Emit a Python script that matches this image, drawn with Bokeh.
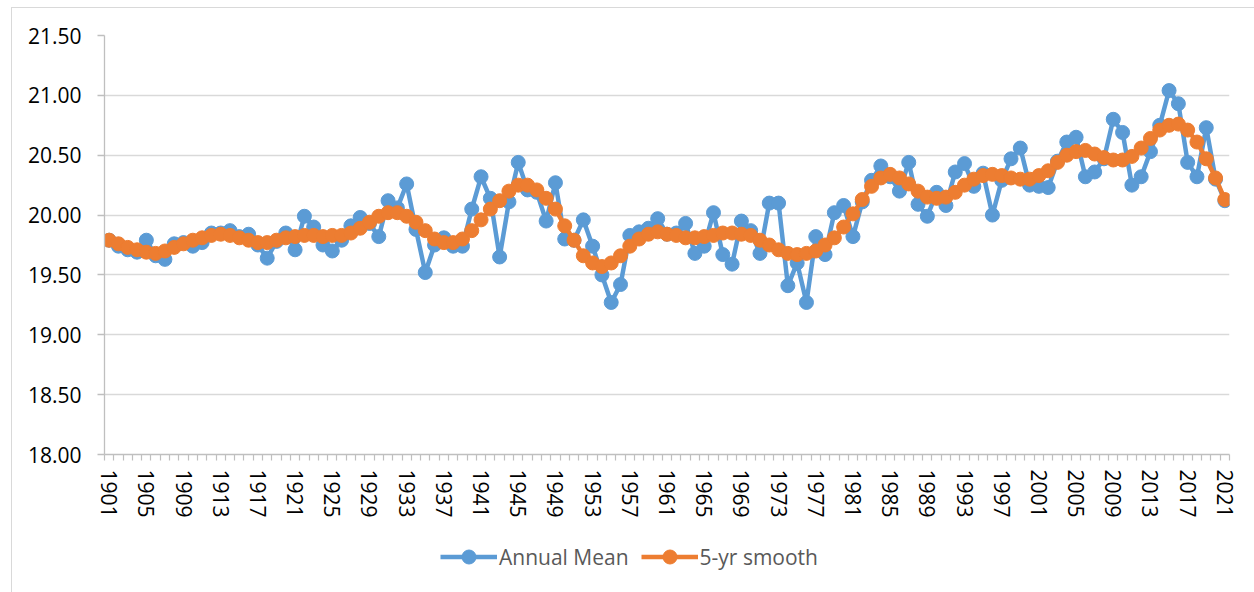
import math
from bokeh.plotting import figure
from bokeh.layouts import column
from bokeh.models import (FixedTicker, Legend, LegendItem, ColumnDataSource,
                          NumeralTickFormatter, Range1d)
from bokeh.embed import file_html
from bokeh.resources import INLINE

years = list(range(1901, 2022))

annual_mean = [
    19.79, 19.74, 19.71, 19.69, 19.79, 19.66, 19.63, 19.76, 19.77, 19.74,  # 1901-1910
    19.77, 19.85, 19.85, 19.87, 19.82, 19.84, 19.75, 19.64, 19.78, 19.85,  # 1911-1920
    19.71, 19.99, 19.90, 19.75, 19.70, 19.79, 19.91, 19.98, 19.93, 19.82,  # 1921-1930
    20.12, 20.06, 20.26, 19.88, 19.52, 19.75, 19.81, 19.74, 19.74, 20.05,  # 1931-1940
    20.32, 20.14, 19.65, 20.11, 20.44, 20.21, 20.19, 19.95, 20.27, 19.80,  # 1941-1950
    19.79, 19.96, 19.74, 19.50, 19.27, 19.42, 19.83, 19.86, 19.89, 19.97,  # 1951-1960
    19.84, 19.85, 19.93, 19.68, 19.74, 20.02, 19.67, 19.59, 19.95, 19.87,  # 1961-1970
    19.68, 20.10, 20.10, 19.41, 19.60, 19.27, 19.82, 19.67, 20.02, 20.08,  # 1971-1980
    19.82, 20.11, 20.29, 20.41, 20.32, 20.20, 20.44, 20.09, 19.99, 20.19,  # 1981-1990
    20.08, 20.36, 20.43, 20.24, 20.35, 20.00, 20.29, 20.47, 20.56, 20.25,  # 1991-2000
    20.24, 20.23, 20.45, 20.61, 20.65, 20.32, 20.36, 20.47, 20.80, 20.69,  # 2001-2010
    20.25, 20.32, 20.53, 20.75, 21.04, 20.93, 20.44, 20.32, 20.73, 20.30,  # 2011-2020
    20.12,                                                                 # 2021
]

smooth_5yr = [
    19.79, 19.76, 19.73, 19.71, 19.69, 19.68, 19.70, 19.73, 19.76, 19.79,  # 1901-1910
    19.81, 19.83, 19.84, 19.83, 19.81, 19.79, 19.77, 19.77, 19.79, 19.81,  # 1911-1920
    19.82, 19.83, 19.83, 19.82, 19.83, 19.83, 19.85, 19.89, 19.94, 19.99,  # 1921-1930
    20.02, 20.02, 19.99, 19.94, 19.87, 19.80, 19.77, 19.77, 19.80, 19.87,  # 1931-1940
    19.96, 20.05, 20.12, 20.20, 20.25, 20.25, 20.21, 20.14, 20.05, 19.91,  # 1941-1950
    19.79, 19.66, 19.60, 19.57, 19.60, 19.66, 19.74, 19.80, 19.84, 19.86,  # 1951-1960
    19.84, 19.83, 19.81, 19.81, 19.82, 19.83, 19.85, 19.85, 19.84, 19.83,  # 1961-1970
    19.79, 19.75, 19.71, 19.68, 19.67, 19.68, 19.70, 19.75, 19.81, 19.90,  # 1971-1980
    20.01, 20.13, 20.24, 20.31, 20.34, 20.31, 20.26, 20.20, 20.15, 20.14,  # 1981-1990
    20.15, 20.19, 20.25, 20.30, 20.33, 20.34, 20.33, 20.31, 20.30, 20.30,  # 1991-2000
    20.33, 20.37, 20.44, 20.50, 20.53, 20.54, 20.51, 20.48, 20.46, 20.46,  # 2001-2010
    20.49, 20.56, 20.64, 20.71, 20.75, 20.76, 20.71, 20.61, 20.47, 20.31,  # 2011-2020
    20.13,                                                                 # 2021
]

tick_years = years[::4]
y_ticks = [18.0, 18.5, 19.0, 19.5, 20.0, 20.5, 21.0, 21.5]

series_names = ["Annual Mean", "5-yr smooth"]
series_colors = ["#5B9BD5", "#ED7D31"]
series_cols = ["a", "s"]

FONT = "Open Sans"
EDGE = "#d9d9d9"
LINE_W = 4.5
MARK = 14

src = ColumnDataSource(dict(x=years, a=annual_mean, s=smooth_5yr))

# ---------------- main chart ----------------
p = figure(width=1254, height=525, output_backend="svg", toolbar_location=None,
           x_range=Range1d(years[0] - 0.5, years[-1] + 0.5),
           y_range=Range1d(y_ticks[0], y_ticks[-1]),
           min_border_left=104, min_border_right=25,
           min_border_top=35, min_border_bottom=71)
# thin chart-area border (left and top edges, as in the reference)
p.styles = {
    "background": (f"linear-gradient({EDGE},{EDGE}) 11px 7px / 1px 100% no-repeat, "
                   f"linear-gradient({EDGE},{EDGE}) 11px 7px / 100% 1px no-repeat, white"),
}
p.outline_line_color = None
p.background_fill_color = "white"
p.border_fill_alpha = 0

for col, color in zip(series_cols, series_colors):
    p.line("x", col, source=src, line_color=color, line_width=LINE_W)
    p.scatter("x", col, source=src, size=MARK, marker="circle",
              fill_color=color, line_color=color)

# y axis
p.yaxis.ticker = FixedTicker(ticks=y_ticks)
p.yaxis.formatter = NumeralTickFormatter(format="0.00")
p.yaxis.axis_line_color = "#bfbfbf"
p.yaxis.axis_line_width = 1.3
p.yaxis.major_tick_line_color = "#bfbfbf"
p.yaxis.major_tick_line_width = 1.3
p.yaxis.major_tick_out = 7
p.yaxis.major_tick_in = 0
p.yaxis.minor_tick_line_color = None
p.yaxis.major_label_standoff = 16
p.yaxis.major_label_text_font = FONT
p.yaxis.major_label_text_font_size = "21px"
p.yaxis.major_label_text_color = "#000000"

# x axis
p.xaxis.ticker = FixedTicker(ticks=tick_years,
                             minor_ticks=[y - 0.5 for y in years] + [years[-1] + 0.5])
p.xaxis.axis_line_color = "#bfbfbf"
p.xaxis.axis_line_width = 1.3
p.xaxis.major_tick_line_color = None
p.xaxis.major_tick_out = 0
p.xaxis.major_tick_in = 0
p.xaxis.minor_tick_line_color = "#bfbfbf"
p.xaxis.minor_tick_line_width = 1.2
p.xaxis.minor_tick_out = 6
p.xaxis.minor_tick_in = 0
p.xaxis.major_label_orientation = -math.pi / 2
p.xaxis.major_label_standoff = 9
p.xaxis.major_label_text_font = FONT
p.xaxis.major_label_text_font_size = "21px"
p.xaxis.major_label_text_color = "#000000"

# grid
p.xgrid.visible = False
p.ygrid.ticker = FixedTicker(ticks=y_ticks)
p.ygrid.grid_line_color = "#d9d9d9"
p.ygrid.grid_line_width = 1.3

# ---------------- legend strip ----------------
lg = figure(width=1254, height=67, output_backend="svg", toolbar_location=None,
            x_range=Range1d(0, 1), y_range=Range1d(0, 1),
            x_axis_type=None, y_axis_type=None,
            min_border_left=0, min_border_right=0,
            min_border_top=0, min_border_bottom=0)
lg.styles = {
    "background": (f"linear-gradient({EDGE},{EDGE}) 11px 0px / 1px 100% no-repeat, white"),
}
lg.outline_line_color = None
lg.background_fill_alpha = 0
lg.border_fill_alpha = 0
lg.xgrid.visible = False
lg.ygrid.visible = False

items = []
for name, col, color in zip(series_names, series_cols, series_colors):
    # same data, but outside this strip's visible range: only used for the legend glyphs
    rl = lg.line("x", col, source=src, line_color=color, line_width=LINE_W)
    rc = lg.scatter("x", col, source=src, size=MARK, marker="circle",
                    fill_color=color, line_color=color)
    items.append(LegendItem(label=name, renderers=[rl, rc]))

legend = Legend(items=items, orientation="horizontal", location=(336, 18),
                glyph_width=57, glyph_height=35, label_standoff=2, spacing=12,
                padding=0, margin=0,
                label_text_font=FONT, label_text_font_size="21px",
                label_text_color="#595959",
                border_line_color=None, background_fill_alpha=0)
lg.add_layout(legend, "center")

layout = column(p, lg, spacing=0)
open("out.html", "w").write(file_html(layout, INLINE))
